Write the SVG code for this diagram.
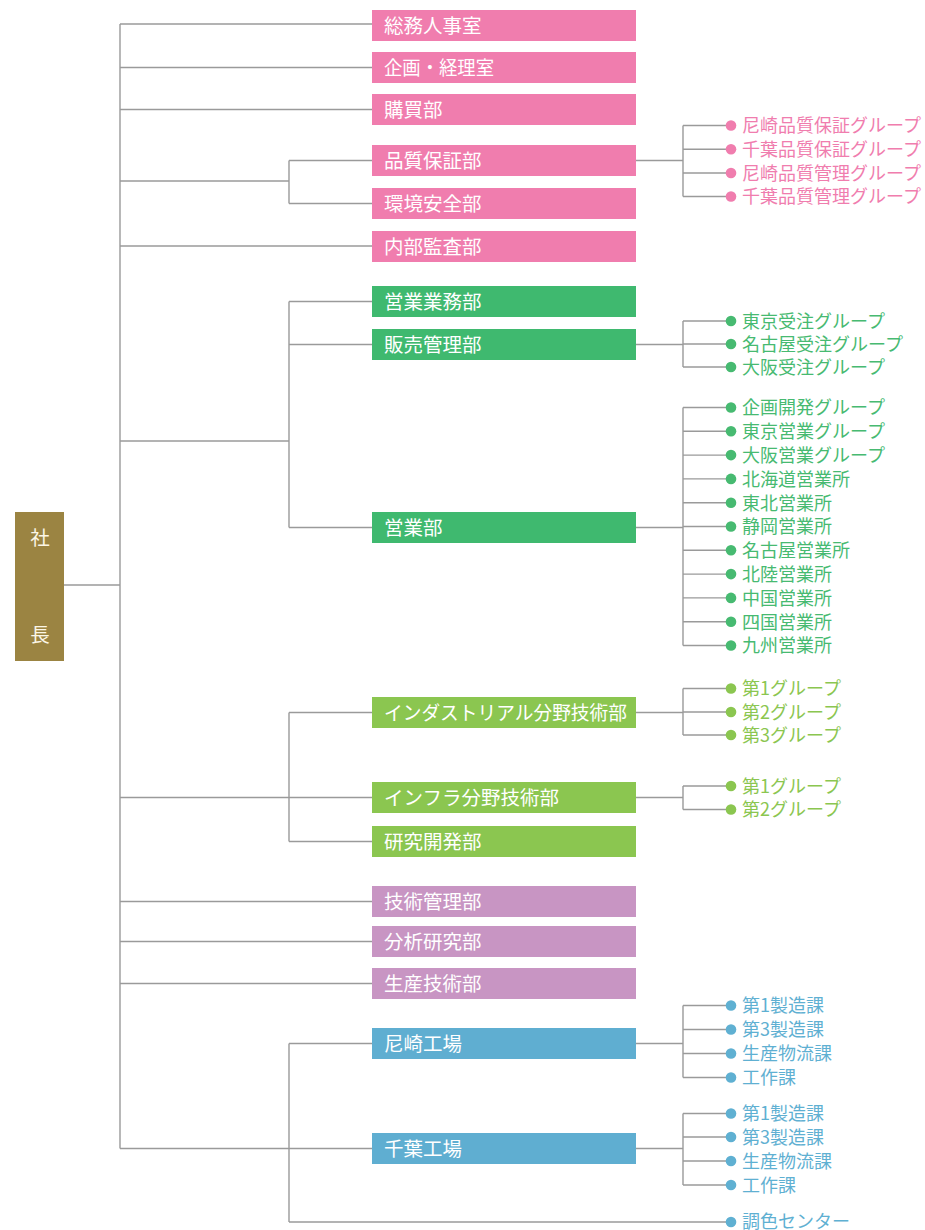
<svg xmlns="http://www.w3.org/2000/svg" width="925" height="1230" viewBox="0 0 925 1230">
<style>
.ln{fill:none;stroke:#9a9a9a;stroke-width:1.4}
.bt{font-family:"Noto Sans CJK JP","Noto Sans",sans-serif;font-size:19.5px;fill:#ffffff}
.st{font-family:"Noto Sans CJK JP","Noto Sans",sans-serif;font-size:18px}
.pk{fill:#f07dae}.gr{fill:#3fb96f}.lg{fill:#8bc650}.pu{fill:#c895c3}.bl{fill:#5faed1}
.pkt{fill:#f07dae}.grt{fill:#47ba71}.lgt{fill:#8bc650}.blt{fill:#5fb0d2}
</style>
<rect width="925" height="1230" fill="#ffffff"/>
<g id="connectors">
<path class="ln" d="M64 585H120M120 24V1148.5M120 24H372M120 67.5H372M120 109.5H372M120 181H289M289 160.5V203.5M289 160.5H372M289 203.5H372M120 246H372"/>
<path class="ln" d="M120 441H289M289 301.5V527.5M289 301.5H372M289 344.5H372M289 527.5H372"/>
<path class="ln" d="M289 712.5V841.5M289 712.5H372M120 797.5H372M289 841.5H372"/>
<path class="ln" d="M120 901.5H372M120 941.5H372M120 983.5H372"/>
<path class="ln" d="M289 1043.5V1222M289 1043.5H372M120 1148.5H372M289 1222H726"/>
<path class="ln" d="M636 160.5H683M683 125.5V196.5M683 125.5H726M683 149.3H726M683 173H726M683 196.5H726"/>
<path class="ln" d="M636 344.5H683M683 321V367M683 321H726M683 344H726M683 367H726"/>
<path class="ln" d="M636 527.5H683M683 407.5V645.5M683 407.5H726M683 431.3H726M683 455.1H726M683 478.9H726M683 502.7H726M683 526.5H726M683 550.3H726M683 574.1H726M683 597.9H726M683 621.7H726M683 645.5H726"/>
<path class="ln" d="M636 712.5H683M683 688.5V735M683 688.5H726M683 712H726M683 735H726"/>
<path class="ln" d="M636 797.5H683M683 786V809.5M683 786H726M683 809.5H726"/>
<path class="ln" d="M636 1043.5H683M683 1005.5V1077.5M683 1005.5H726M683 1029.5H726M683 1053.5H726M683 1077.5H726"/>
<path class="ln" d="M636 1148.5H683M683 1113.5V1185M683 1113.5H726M683 1137H726M683 1161H726M683 1185H726"/>
</g>
<g id="president">
<rect x="15" y="512" width="49" height="149" fill="#9b8442"/>
<text class="bt" x="40" y="545" text-anchor="middle" style="fill:#fbf6e6">社</text>
<text class="bt" x="40" y="642" text-anchor="middle" style="fill:#fbf6e6">長</text>
</g>
<g id="n1"><rect class="pk" x="372" y="10" width="264" height="31"/><text class="bt" x="384" y="32.5">総務人事室</text></g>
<g id="n2"><rect class="pk" x="372" y="52" width="264" height="31"/><text class="bt" x="384" y="74.5" textLength="110" lengthAdjust="spacingAndGlyphs">企画・経理室</text></g>
<g id="n3"><rect class="pk" x="372" y="94" width="264" height="31"/><text class="bt" x="384" y="116.5">購買部</text></g>
<g id="n4"><rect class="pk" x="372" y="145" width="264" height="31"/><text class="bt" x="384" y="167.5">品質保証部</text></g>
<g id="n5"><rect class="pk" x="372" y="188" width="264" height="31"/><text class="bt" x="384" y="210.5">環境安全部</text></g>
<g id="n6"><rect class="pk" x="372" y="231" width="264" height="31"/><text class="bt" x="384" y="253.5">内部監査部</text></g>
<g id="n7"><rect class="gr" x="372" y="286" width="264" height="31"/><text class="bt" x="384" y="308.5">営業業務部</text></g>
<g id="n8"><rect class="gr" x="372" y="329" width="264" height="31"/><text class="bt" x="384" y="351.5">販売管理部</text></g>
<g id="n9"><rect class="gr" x="372" y="512" width="264" height="31"/><text class="bt" x="384" y="534.5">営業部</text></g>
<g id="n10"><rect class="lg" x="372" y="697" width="264" height="31"/><text class="bt" x="384" y="719.5" textLength="243" lengthAdjust="spacingAndGlyphs">インダストリアル分野技術部</text></g>
<g id="n11"><rect class="lg" x="372" y="782" width="264" height="31"/><text class="bt" x="384" y="804.5">インフラ分野技術部</text></g>
<g id="n12"><rect class="lg" x="372" y="826" width="264" height="31"/><text class="bt" x="384" y="848.5">研究開発部</text></g>
<g id="n13"><rect class="pu" x="372" y="886" width="264" height="31"/><text class="bt" x="384" y="908.5">技術管理部</text></g>
<g id="n14"><rect class="pu" x="372" y="926" width="264" height="31"/><text class="bt" x="384" y="948.5">分析研究部</text></g>
<g id="n15"><rect class="pu" x="372" y="968" width="264" height="31"/><text class="bt" x="384" y="990.5">生産技術部</text></g>
<g id="n16"><rect class="bl" x="372" y="1028" width="264" height="31"/><text class="bt" x="384" y="1050.5">尼崎工場</text></g>
<g id="n17"><rect class="bl" x="372" y="1133" width="264" height="31"/><text class="bt" x="384" y="1155.5">千葉工場</text></g>
<g id="qa-groups" class="pkt">
<circle cx="731" cy="125.5" r="5.3"/><text class="st" x="742" y="132.3">尼崎品質保証グループ</text>
<circle cx="731" cy="149.3" r="5.3"/><text class="st" x="742" y="156.1">千葉品質保証グループ</text>
<circle cx="731" cy="173" r="5.3"/><text class="st" x="742" y="179.8">尼崎品質管理グループ</text>
<circle cx="731" cy="196.5" r="5.3"/><text class="st" x="742" y="203.3">千葉品質管理グループ</text>
</g>
<g id="order-groups" class="grt">
<circle cx="731" cy="321" r="5.3"/><text class="st" x="742" y="327.8">東京受注グループ</text>
<circle cx="731" cy="344" r="5.3"/><text class="st" x="742" y="350.8">名古屋受注グループ</text>
<circle cx="731" cy="367" r="5.3"/><text class="st" x="742" y="373.8">大阪受注グループ</text>
</g>
<g id="sales-groups" class="grt">
<circle cx="731" cy="407.5" r="5.3"/><text class="st" x="742" y="414.3">企画開発グループ</text>
<circle cx="731" cy="431.3" r="5.3"/><text class="st" x="742" y="438.1">東京営業グループ</text>
<circle cx="731" cy="455.1" r="5.3"/><text class="st" x="742" y="461.9">大阪営業グループ</text>
<circle cx="731" cy="478.9" r="5.3"/><text class="st" x="742" y="485.7">北海道営業所</text>
<circle cx="731" cy="502.7" r="5.3"/><text class="st" x="742" y="509.5">東北営業所</text>
<circle cx="731" cy="526.5" r="5.3"/><text class="st" x="742" y="533.3">静岡営業所</text>
<circle cx="731" cy="550.3" r="5.3"/><text class="st" x="742" y="557.1">名古屋営業所</text>
<circle cx="731" cy="574.1" r="5.3"/><text class="st" x="742" y="580.9">北陸営業所</text>
<circle cx="731" cy="597.9" r="5.3"/><text class="st" x="742" y="604.7">中国営業所</text>
<circle cx="731" cy="621.7" r="5.3"/><text class="st" x="742" y="628.5">四国営業所</text>
<circle cx="731" cy="645.5" r="5.3"/><text class="st" x="742" y="652.3">九州営業所</text>
</g>
<g id="industrial-groups" class="lgt">
<circle cx="731" cy="688.5" r="5.3"/><text class="st" x="742" y="695.3">第1グループ</text>
<circle cx="731" cy="712" r="5.3"/><text class="st" x="742" y="718.8">第2グループ</text>
<circle cx="731" cy="735" r="5.3"/><text class="st" x="742" y="741.8">第3グループ</text>
</g>
<g id="infra-groups" class="lgt">
<circle cx="731" cy="786" r="5.3"/><text class="st" x="742" y="792.8">第1グループ</text>
<circle cx="731" cy="809.5" r="5.3"/><text class="st" x="742" y="816.3">第2グループ</text>
</g>
<g id="amagasaki-sections" class="blt">
<circle cx="731" cy="1005.5" r="5.3"/><text class="st" x="742" y="1012.3">第1製造課</text>
<circle cx="731" cy="1029.5" r="5.3"/><text class="st" x="742" y="1036.3">第3製造課</text>
<circle cx="731" cy="1053.5" r="5.3"/><text class="st" x="742" y="1060.3">生産物流課</text>
<circle cx="731" cy="1077.5" r="5.3"/><text class="st" x="742" y="1084.3">工作課</text>
</g>
<g id="chiba-sections" class="blt">
<circle cx="731" cy="1113.5" r="5.3"/><text class="st" x="742" y="1120.3">第1製造課</text>
<circle cx="731" cy="1137" r="5.3"/><text class="st" x="742" y="1143.8">第3製造課</text>
<circle cx="731" cy="1161" r="5.3"/><text class="st" x="742" y="1167.8">生産物流課</text>
<circle cx="731" cy="1185" r="5.3"/><text class="st" x="742" y="1191.8">工作課</text>
</g>
<g id="color-center" class="blt">
<circle cx="731" cy="1222" r="5.3"/><text class="st" x="742" y="1228.3">調色センター</text>
</g>
</svg>
